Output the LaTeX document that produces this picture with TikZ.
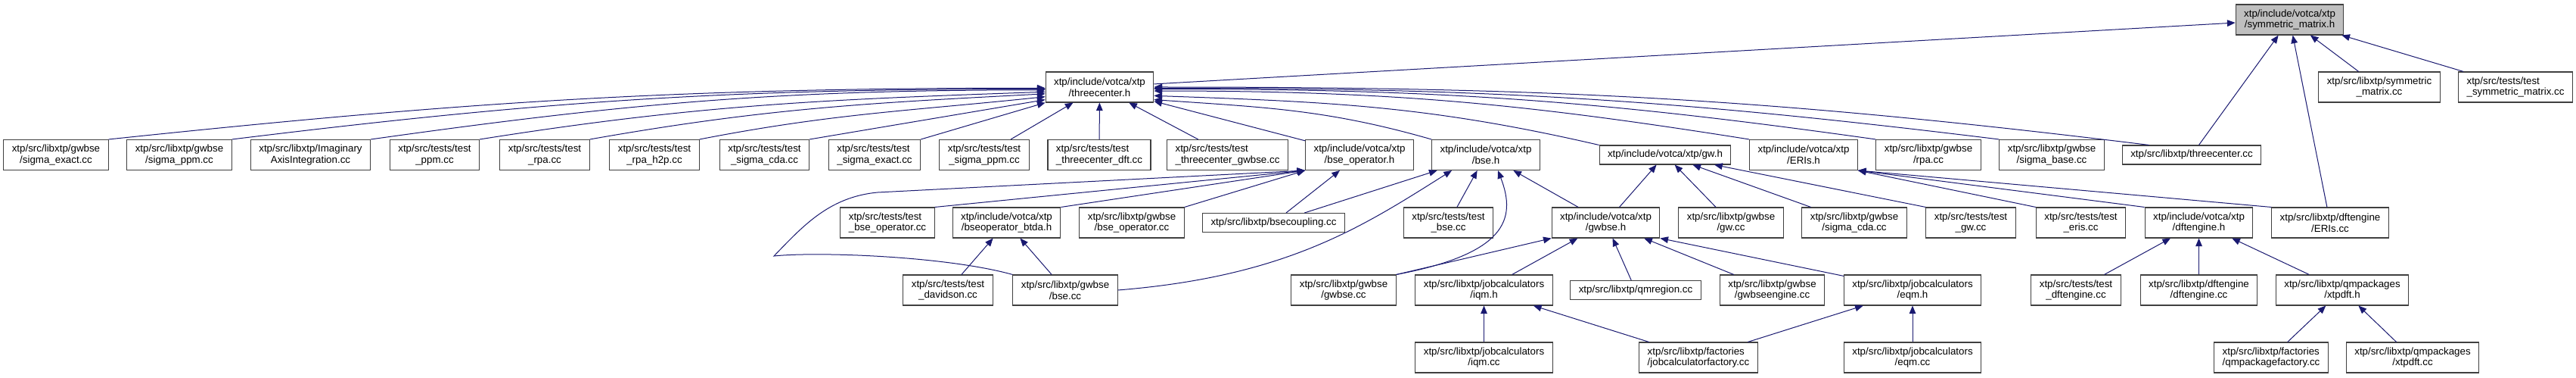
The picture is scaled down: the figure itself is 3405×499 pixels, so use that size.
\documentclass[tikz,border=0pt]{standalone}
\usepackage{fontspec}
\setmainfont{Liberation Sans}
\usetikzlibrary{arrows.meta}
\definecolor{azulnoite}{HTML}{191970}
\definecolor{cinzaesc}{HTML}{404040}
\definecolor{cinzacl}{HTML}{BFBFBF}

\begin{document}
\begin{tikzpicture}[x=0.75pt,y=-0.75pt,
  caixa/.style={draw=cinzaesc, line width=0.8pt, fill=white, align=center,
    font=\fontsize{10}{11}\selectfont, inner xsep=8.2pt, inner ysep=1pt, minimum height=30pt},
  umalinha/.style={minimum height=18.75pt},
  esq/.style={align=left},
  raiz/.style={caixa, fill=cinzacl},
  seta/.style={draw=azulnoite, line width=0.75pt, -{Triangle[length=8pt,width=6.5pt]}}]
\useasboundingbox (0,0) rectangle (3405,499);

% row 0 and 1
\node[raiz] (sm) at (3026.5,26) {xtp/include/votca/xtp\\/symmetric\_matrix.h};
\node[caixa] (tc) at (1453.5,115) {xtp/include/votca/xtp\\/threecenter.h};
\node[caixa] (smcc) at (3145,115) {xtp/src/libxtp/symmetric\\\_matrix.cc};
\node[caixa,esq] (tsm) at (3325,115) {xtp/src/tests/test\\\_symmetric\_matrix.cc};

% row 2
\node[caixa] (sgex) at (74,204.5) {xtp/src/libxtp/gwbse\\/sigma\_exact.cc};
\node[caixa] (sgppm) at (237,204.5) {xtp/src/libxtp/gwbse\\/sigma\_ppm.cc};
\node[caixa] (imag) at (410.5,204.5) {xtp/src/libxtp/Imaginary\\AxisIntegration.cc};
\node[caixa] (tppm) at (574.5,204.5) {xtp/src/tests/test\\\_ppm.cc};
\node[caixa] (trpa) at (720,204.5) {xtp/src/tests/test\\\_rpa.cc};
\node[caixa] (trpah) at (865,204.5) {xtp/src/tests/test\\\_rpa\_h2p.cc};
\node[caixa] (tscda) at (1010.5,204.5) {xtp/src/tests/test\\\_sigma\_cda.cc};
\node[caixa,esq] (tsex) at (1156,204.5) {xtp/src/tests/test\\\_sigma\_exact.cc};
\node[caixa] (tsppm) at (1301,204.5) {xtp/src/tests/test\\\_sigma\_ppm.cc};
\node[caixa,esq] (ttcdft) at (1453,204.5) {xtp/src/tests/test\\\_threecenter\_dft.cc};
\node[caixa,esq] (ttcgw) at (1622.5,204.5) {xtp/src/tests/test\\\_threecenter\_gwbse.cc};
\node[caixa] (bseoph) at (1797,204.5) {xtp/include/votca/xtp\\/bse\_operator.h};
\node[caixa] (bseh) at (1964,204.5) {xtp/include/votca/xtp\\/bse.h};
\node[caixa,umalinha] (gwh) at (2201,204.5) {xtp/include/votca/xtp/gw.h};
\node[caixa] (erish) at (2384,204.5) {xtp/include/votca/xtp\\/ERIs.h};
\node[caixa] (rpacc) at (2549,204.5) {xtp/src/libxtp/gwbse\\/rpa.cc};
\node[caixa] (sgbase) at (2712,204.5) {xtp/src/libxtp/gwbse\\/sigma\_base.cc};
\node[caixa,umalinha] (tccc) at (2897,204.5) {xtp/src/libxtp/threecenter.cc};

% row 3
\node[caixa,esq] (tbseop) at (1173,294) {xtp/src/tests/test\\\_bse\_operator.cc};
\node[caixa] (btda) at (1330.5,294) {xtp/include/votca/xtp\\/bseoperator\_btda.h};
\node[caixa] (bseopcc) at (1496,294) {xtp/src/libxtp/gwbse\\/bse\_operator.cc};
\node[caixa,umalinha] (bsecpl) at (1683.5,294) {xtp/src/libxtp/bsecoupling.cc};
\node[caixa] (tbse) at (1914.5,294) {xtp/src/tests/test\\\_bse.cc};
\node[caixa] (gwbseh) at (2122.5,294) {xtp/include/votca/xtp\\/gwbse.h};
\node[caixa] (gwcc) at (2288,294) {xtp/src/libxtp/gwbse\\/gw.cc};
\node[caixa] (sgcda) at (2451,294) {xtp/src/libxtp/gwbse\\/sigma\_cda.cc};
\node[caixa] (tgw) at (2605,294) {xtp/src/tests/test\\\_gw.cc};
\node[caixa] (teris) at (2750.5,294) {xtp/src/tests/test\\\_eris.cc};
\node[caixa] (dfth) at (2906.5,294) {xtp/include/votca/xtp\\/dftengine.h};
\node[caixa] (eriscc) at (3080,294) {xtp/src/libxtp/dftengine\\/ERIs.cc};

% row 4
\node[caixa] (tdav) at (1253,383) {xtp/src/tests/test\\\_davidson.cc};
\node[caixa] (bsecc) at (1408,383) {xtp/src/libxtp/gwbse\\/bse.cc};
\node[caixa] (gwbsecc) at (1776,383) {xtp/src/libxtp/gwbse\\/gwbse.cc};
\node[caixa] (iqmh) at (1961.5,383) {xtp/src/libxtp/jobcalculators\\/iqm.h};
\node[caixa,umalinha] (qmreg) at (2162,383) {xtp/src/libxtp/qmregion.cc};
\node[caixa] (gweng) at (2342.5,383) {xtp/src/libxtp/gwbse\\/gwbseengine.cc};
\node[caixa] (eqmh) at (2528,383) {xtp/src/libxtp/jobcalculators\\/eqm.h};
\node[caixa] (tdft) at (2744,383) {xtp/src/tests/test\\\_dftengine.cc};
\node[caixa] (dftcc) at (2906.5,383) {xtp/src/libxtp/dftengine\\/dftengine.cc};
\node[caixa] (xtpdfth) at (3096,383) {xtp/src/libxtp/qmpackages\\/xtpdft.h};

% row 5
\node[caixa] (iqmcc) at (1961.5,472) {xtp/src/libxtp/jobcalculators\\/iqm.cc};
\node[caixa,esq] (jcf) at (2245,472) {xtp/src/libxtp/factories\\/jobcalculatorfactory.cc};
\node[caixa] (eqmcc) at (2528,472) {xtp/src/libxtp/jobcalculators\\/eqm.cc};
\node[caixa,esq] (qpf) at (3002,472) {xtp/src/libxtp/factories\\/qmpackagefactory.cc};
\node[caixa] (xtpdftcc) at (3189,472) {xtp/src/libxtp/qmpackages\\/xtpdft.cc};

% long fans into threecenter.h
\foreach \a/\o/\i/\p in {sgex.north east/6/180/181, sgppm.north east/7/180/182,
    imag.north east/8/180/183, tppm.north east/9/182/185, trpa.north east/10/183/187,
    trpah.north east/11/186/190, tccc.167/173/0/east, sgbase.north west/173/0/359,
    rpacc.north west/172/0/358, erish.north west/171/0/356, gwh.north west/167/-2/351,
    bseh.north west/164/-4/347}
  \draw[seta] (\a) to[out=\o,in=\i] (tc.\p);

% straight edges
\foreach \a/\b in {tscda.north east/tc.193, tsex.north east/tc.south west, tsppm/tc,
    ttcdft/tc, ttcgw/tc, bseoph/tc, tc/sm, tccc/sm, eriscc/sm, smcc/sm, tsm/sm,
    tbseop.north east/bseoph.south west, btda.north east/bseoph.south west,
    bseopcc.north east/bseoph.south west, bsecpl/bseoph, bsecpl/bseh, tbse/bseh,
    gwbseh/bseh, gwbseh/gwh, gwcc/gwh, sgcda/gwh, tgw.north west/gwh,
    teris.north west/erish.south east, dfth.north west/erish.south east,
    eriscc.north west/erish.south east, gwbsecc.north east/gwbseh.south west,
    iqmh/gwbseh, qmreg/gwbseh, gweng/gwbseh, eqmh/gwbseh.south east, tdav/btda,
    bsecc/btda, tdft/dfth, dftcc/dfth, xtpdfth/dfth, qpf/xtpdfth, xtpdftcc/xtpdfth,
    iqmcc/iqmh, jcf/iqmh, jcf/eqmh, eqmcc/eqmh}
  \draw[seta] (\a) -- (\b);

% routed edges
\draw[seta] (bsecc.north west) .. controls (1250,338) and (1080,332) .. (1023,338)
      .. controls (1060,300) and (1095,260) .. (1160,254) -- (bseoph.south west);
\draw[seta] (bsecc.east) .. controls (1700,365) and (1800,300) .. ([xshift=-33.75pt]bseh.south);
\draw[seta] (gwbsecc.north east) .. controls (1990,335) and (2005,290) .. ([xshift=12pt]bseh.south);
\end{tikzpicture}
\end{document}
